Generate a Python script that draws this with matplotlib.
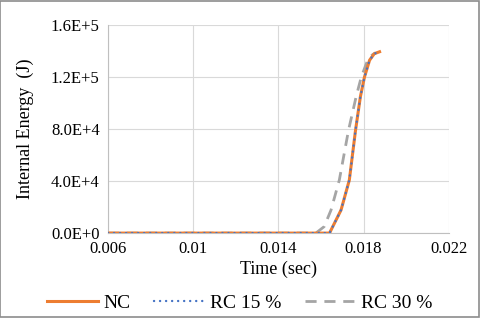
import matplotlib.pyplot as plt

plt.rcParams['font.family'] = ['Liberation Serif', 'DejaVu Serif']

# values
t_nc = [0.006, 0.0100, 0.0140, 0.0164, 0.01694, 0.01733, 0.01762, 0.01785, 0.01804, 0.01828, 0.01850, 0.01875]
e_nc = [0, 0, 0, 0, 17.7e3, 40.8e3, 79e3, 105e3, 120e3, 133e3, 138e3, 139.5e3]

t_rc15 = t_nc
e_rc15 = e_nc

t_rc30 = [0.006, 0.0100, 0.0140, 0.01576, 0.01615, 0.01647, 0.01686, 0.01729, 0.01765, 0.01789, 0.01819, 0.01840, 0.01856]
e_rc30 = [0, 0, 0, 0, 5e3, 17.7e3, 40.8e3, 79e3, 105e3, 120e3, 133e3, 137e3, 138.7e3]

xticks = [0.006, 0.01, 0.014, 0.018, 0.022]
xticklabels = ['0.006', '0.01', '0.014', '0.018', '0.022']
yticks = [0, 4e4, 8e4, 1.2e5, 1.6e5]
yticklabels = ['0.0E+0', '4.0E+4', '8.0E+4', '1.2E+5', '1.6E+5']

fig = plt.figure(figsize=(4.8, 3.18), dpi=100)
ax = fig.add_axes([0.225, 0.267, 0.71, 0.654])

ax.plot(t_nc, e_nc, color='#ED7D31', lw=2.2, label='NC', zorder=3)
ax.plot(t_rc15, e_rc15, color='#4472C4', lw=1.7, ls=(0, (0.05, 2.5)), label='RC 15 %', zorder=4,
        dash_capstyle='round')
ax.plot(t_rc30, e_rc30, color='#A5A5A5', lw=2.0, ls=(0, (4, 2.8)), label='RC 30 %', zorder=2)

ax.set_xlim(0.006, 0.022)
ax.set_ylim(0, 1.6e5)
ax.set_xticks(xticks)
ax.set_xticklabels(xticklabels)
ax.set_yticks(yticks)
ax.set_yticklabels(yticklabels)
ax.tick_params(length=0, labelsize=12, pad=6)
ax.grid(True, color='#D9D9D9', lw=0.8)
ax.set_axisbelow(True)
for s in ['top', 'right']:
    ax.spines[s].set_visible(False)
for s in ['left', 'bottom']:
    ax.spines[s].set_color('#BFBFBF')
    ax.spines[s].set_linewidth(0.8)

ax.set_xlabel('Time (sec)', fontsize=13, labelpad=2)
ax.set_ylabel('Internal Energy  (J)', fontsize=13, labelpad=12)

fig.legend(loc='center', bbox_to_anchor=(0.5, 0.047), ncol=3, frameon=False,
           fontsize=14, handlelength=2.6, columnspacing=1.2, handletextpad=0.3)

# gray border around whole figure
fig.patches.append(plt.Rectangle((0.001, 0.002), 0.997, 0.995, transform=fig.transFigure,
                                 fill=False, edgecolor='#8C8C8C', lw=1.2))

fig.savefig('out.png', dpi=100)
